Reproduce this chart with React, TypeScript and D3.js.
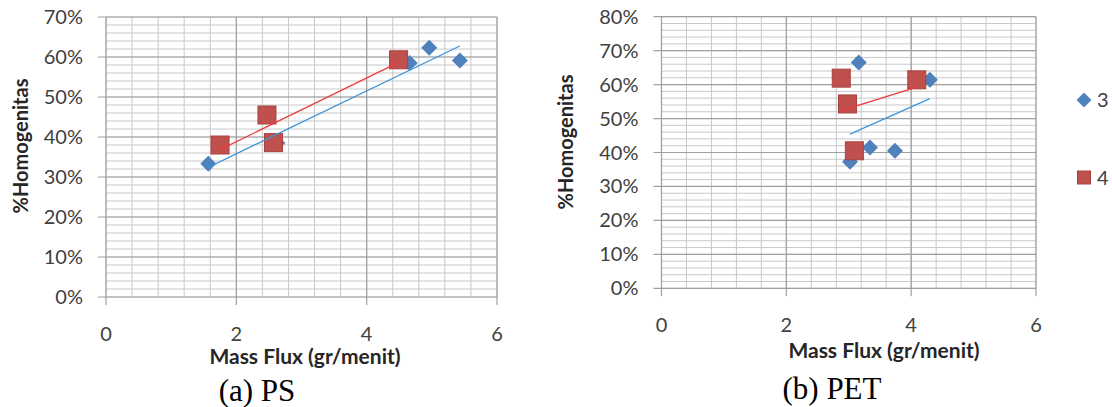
import React from 'react'
import * as d3 from 'd3'

// PS panel
const psX3 = [1.57, 2.63, 4.66, 4.96, 5.43]
const psY3 = [0.333, 0.385, 0.585, 0.623, 0.591]
const psX4 = [1.75, 2.47, 2.57, 4.49]
const psY4 = [0.38, 0.455, 0.386, 0.593]
const psYTicks = [0, 0.1, 0.2, 0.3, 0.4, 0.5, 0.6, 0.7]

// PET panel
const petX3 = [3.02, 3.16, 3.34, 3.74, 4.3]
const petY3 = [0.373, 0.665, 0.415, 0.405, 0.614]
const petX4 = [2.88, 2.98, 3.09, 4.09]
const petY4 = [0.619, 0.543, 0.405, 0.614]
const petYTicks = [0, 0.1, 0.2, 0.3, 0.4, 0.5, 0.6, 0.7, 0.8]

const xTicks = [0, 2, 4, 6]
const seriesNames = ['3', '4']
const xTitle = 'Mass Flux (gr/menit)'
const yTitle = '%Homogenitas'

const BLUE = '#4f81bd'
const RED = '#c0504d'
const FONT = 'Lato, "Open Sans", sans-serif'

function fit(xs: number[], ys: number[]) {
    const mx = d3.mean(xs)!, my = d3.mean(ys)!
    let sxy = 0, sxx = 0
    xs.forEach((x, i) => { sxy += (x - mx) * (ys[i] - my); sxx += (x - mx) ** 2 })
    const b = sxy / sxx
    const [x0, x1] = d3.extent(xs) as [number, number]
    return [[x0, my + b * (x0 - mx)], [x1, my + b * (x1 - mx)]]
}

function diamond(cx: number, cy: number, r: number) {
    return `M${cx},${cy - r}L${cx + r},${cy}L${cx},${cy + r}L${cx - r},${cy}Z`
}

function Panel({ xs3, ys3, xs4, ys4, yTicks, xr, yr, xTitleAt, yTitleAt, caption, captionAt }: any) {
    const yMax = yTicks[yTicks.length - 1]
    const x = d3.scaleLinear().domain([0, 6]).range(xr)
    const y = d3.scaleLinear().domain([0, yMax]).range(yr)
    const minorY = d3.range(0, yMax + 0.0001, 0.02)
    const minorX = d3.range(0, 6.0001, 0.4)
    const line = d3.line<number[]>().x(d => x(d[0])).y(d => y(d[1]))
    const pts3 = xs3.map((v: number, i: number) => [v, ys3[i]])
    const pts4 = xs4.map((v: number, i: number) => [v, ys4[i]])
    return (
        <g>
            {minorY.map((v, i) => <line key={'my' + i} x1={xr[0]} x2={xr[1]} y1={y(v)} y2={y(v)} stroke="#c8c8c8" strokeWidth={1} />)}
            {minorX.map((v, i) => <line key={'mx' + i} x1={x(v)} x2={x(v)} y1={yr[0]} y2={yr[1]} stroke="#c8c8c8" strokeWidth={1} />)}
            {yTicks.map((v: number) => <line key={'gy' + v} x1={xr[0] - 8} x2={xr[1]} y1={y(v)} y2={y(v)} stroke="#9f9f9f" strokeWidth={1.2} />)}
            {xTicks.map(v => <line key={'gx' + v} x1={x(v)} x2={x(v)} y1={yr[0] + 8} y2={yr[1]} stroke="#9f9f9f" strokeWidth={1.2} />)}
            {yTicks.map((v: number) => (
                <text key={'ty' + v} x={xr[0] - 23} y={y(v)} dy="0.35em" textAnchor="end" fontSize={20} fill="#404040" fontFamily={FONT}>{d3.format('.0%')(v)}</text>
            ))}
            {xTicks.map(v => (
                <text key={'tx' + v} x={x(v)} y={yr[0] + 37} dy="0.35em" textAnchor="middle" fontSize={20} fill="#404040" fontFamily={FONT}>{v}</text>
            ))}
            {pts3.map((p: number[], i: number) => <path key={'d' + i} d={diamond(x(p[0]), y(p[1]), 8)} fill={BLUE} />)}
            {pts4.map((p: number[], i: number) => (
                <rect key={'s' + i} x={x(p[0]) - 9} y={y(p[1]) - 9} width={18} height={18} fill={RED} stroke="#a8423f" strokeWidth={1} />
            ))}
            <path d={line(fit(xs3, ys3))!} stroke="#3d95d8" strokeWidth={1.3} fill="none" />
            <path d={line(fit(xs4, ys4))!} stroke="#f03a3a" strokeWidth={1.3} fill="none" />
            <text x={xTitleAt[0]} y={xTitleAt[1]} dy="0.35em" textAnchor="middle" fontSize={21} fontWeight="bold" fill="#262626" fontFamily={FONT}>{xTitle}</text>
            <text transform={`translate(${yTitleAt[0]},${yTitleAt[1]}) rotate(-90)`} dy="0.35em" textAnchor="middle" fontSize={20} fontWeight="bold" fill="#262626" fontFamily={FONT}>{yTitle}</text>
            <text x={captionAt[0]} y={captionAt[1]} textAnchor="middle" fontSize={31} fill="#000" fontFamily='"Liberation Serif", "Times New Roman", serif'>{caption}</text>
        </g>
    )
}

export default function App() {
    return (
        <svg width={1112} height={407} style={{ position: 'absolute', left: 0, top: 0, background: '#fff' }}>
            <Panel xs3={psX3} ys3={psY3} xs4={psX4} ys4={psY4} yTicks={psYTicks}
                xr={[106, 497]} yr={[297, 17]} xTitleAt={[305, 357]} yTitleAt={[21, 146]}
                caption="(a) PS" captionAt={[257, 401]} />
            <Panel xs3={petX3} ys3={petY3} xs4={petX4} ys4={petY4} yTicks={petYTicks}
                xr={[661.5, 1036]} yr={[288.3, 16.7]} xTitleAt={[884, 351]} yTitleAt={[566, 142]}
                caption="(b) PET" captionAt={[832, 399]} />
            <path d={diamond(1084, 100, 7.5)} fill={BLUE} />
            <text x={1097} y={100} dy="0.35em" fontSize={20} fill="#404040" fontFamily={FONT}>{seriesNames[0]}</text>
            <rect x={1077.5} y={171} width={13} height={13} fill={RED} stroke="#a8423f" strokeWidth={1} />
            <text x={1097} y={177.5} dy="0.35em" fontSize={20} fill="#404040" fontFamily={FONT}>{seriesNames[1]}</text>
        </svg>
    )
}
